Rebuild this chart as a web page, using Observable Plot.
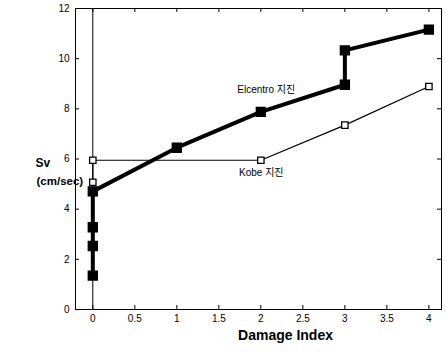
<!DOCTYPE html>
<html>
<head>
<meta charset="utf-8">
<script src="https://cdn.jsdelivr.net/npm/d3@7"></script>
<script src="https://cdn.jsdelivr.net/npm/@observablehq/plot@0.6"></script>
<style>
  html, body { margin: 0; padding: 0; background: #fff; }
  #chart svg { display: block; }
</style>
</head>
<body>
<div id="chart"></div>
<script>
// Elcentro earthquake series (filled squares, thick line)
const elcentroDI = [0, 0, 0, 0, 1, 2, 3, 3, 4];
const elcentroSv = [1.35, 2.53, 3.28, 4.71, 6.45, 7.88, 8.96, 10.33, 11.16];
// Kobe earthquake series (open squares, thin line)
const kobeDI = [0, 0, 2, 3, 4];
const kobeSv = [5.07, 5.95, 5.95, 7.35, 8.89];
// Axis ticks
const xTicks = [0, 0.5, 1, 1.5, 2, 2.5, 3, 3.5, 4];
const yTicks = [0, 2, 4, 6, 8, 10, 12];
// Annotations
const labels = [
  {x: 1.72, y: 8.76, text: "Elcentro 지진"},
  {x: 1.74, y: 5.44, text: "Kobe 지진"}
];

const elcentro = elcentroDI.map((d, i) => ({di: d, sv: elcentroSv[i]}));
const kobe = kobeDI.map((d, i) => ({di: d, sv: kobeSv[i]}));

const W = 446, H = 352;
const mL = 75, mR = 5, mT = 8, mB = 43;
const pw = W - mL - mR, ph = H - mT - mB;
const font = "'Liberation Sans', Arial, 'Noto Sans CJK KR', sans-serif";

const chart = Plot.plot({
  width: W,
  height: H,
  marginLeft: mL,
  marginRight: mR,
  marginTop: mT,
  marginBottom: mB,
  style: {fontFamily: font, fontSize: "10px", color: "#000", background: "#fff"},
  x: {domain: [-0.206, 4.15]},
  y: {domain: [0, 12]},
  marks: [
    Plot.frame({stroke: "#000", strokeWidth: 1}),
    // inside ticks
    Plot.tickX(xTicks, {x: d => d, insetTop: ph - 4, stroke: "#000"}),
    Plot.tickX(xTicks, {x: d => d, insetBottom: ph - 4, stroke: "#000"}),
    Plot.tickY(yTicks, {y: d => d, insetRight: pw - 4, stroke: "#000"}),
    Plot.tickY(yTicks, {y: d => d, insetLeft: pw - 4, stroke: "#000"}),
    Plot.axisX(xTicks, {tickSize: 0, tickPadding: 5, label: null, tickFormat: d => String(d), fontSize: 10}),
    Plot.axisY(yTicks, {tickSize: 0, tickPadding: 6, label: null, tickFormat: d => String(d), fontSize: 10}),
    Plot.ruleX([0], {stroke: "#000", strokeWidth: 1}),
    // Kobe
    Plot.line(kobe, {x: "di", y: "sv", stroke: "#000", strokeWidth: 1.2}),
    Plot.dot(kobe, {x: "di", y: "sv", symbol: "square", r: 3.6, fill: "#fff", stroke: "#000", strokeWidth: 1.3}),
    // Elcentro
    Plot.line(elcentro, {x: "di", y: "sv", stroke: "#000", strokeWidth: 4}),
    Plot.dot(elcentro, {x: "di", y: "sv", symbol: "square", r: 5, fill: "#000", stroke: "#000"}),
    // annotations
    Plot.text(labels, {x: "x", y: "y", text: "text", textAnchor: "start", fontSize: 10, fill: "#000"}),
    // axis titles
    Plot.text(["Damage Index"], {frameAnchor: "bottom", dx: 27, dy: 30, fontSize: 14, fontWeight: "bold", fill: "#000"}),
    Plot.text(["Sv"], {frameAnchor: "left", dx: -40, dy: 4, fontSize: 12, fontWeight: "bold", fill: "#000"}),
    Plot.text(["(cm/sec)"], {frameAnchor: "left", dx: -39, dy: 22, fontSize: 11.5, fontWeight: "bold", fill: "#000"})
  ]
});

document.getElementById("chart").appendChild(chart);
</script>
</body>
</html>
